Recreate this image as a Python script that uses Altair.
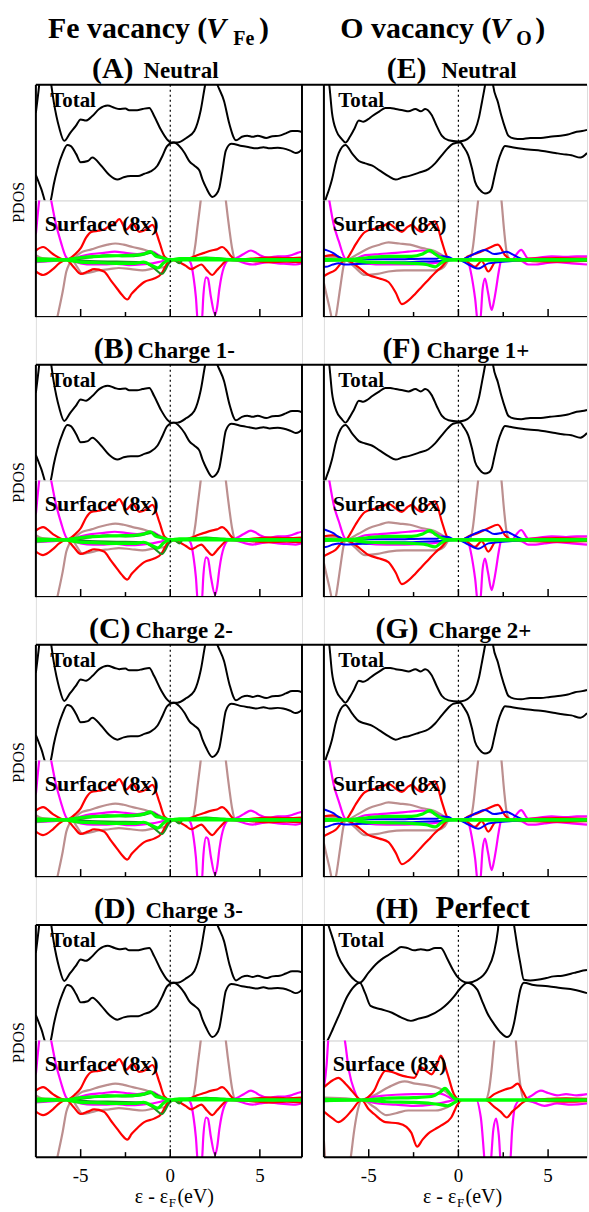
import altair as alt
import pandas as pd

FONT = "Liberation Serif, Times New Roman, serif"

# ---------------- layout ----------------
W_L, W_R = 267, 264
H_TOP, H_BOT = 116, 117
GAP = 48
COL_GAP = 22
X_DOM_L = [-7.5, 7.35]
X_DOM_R = [-7.5, 7.17]
Y_DOM_TOP = [-5, 5]
Y_DOM_BOT = [-4.9, 5.1]

TICKS_MAJOR = [-5, 0, 5]
TICKS_MINOR = [-2.5, 2.5]
TICK_LABELS = ["-5", "0", "5"]

# ---------------- Fe vacancy (panels A-D) ----------------
FE_TOT_UP = [(-7.5, 2.6), (-7.35, 4.5), (-7.2, 6.5), (-6.9, 7.5), (-6.67, 5.3), (-6.5, 3.5), (-6.2, 1.3),
             (-5.92, 0.15), (-5.6, 0.8), (-5.27, 1.45), (-5.0, 2.0), (-4.7, 1.9), (-4.35, 2.3), (-3.97, 2.9),
             (-3.5, 3.2), (-3.1, 3.0), (-2.85, 2.9), (-2.5, 2.95), (-2.3, 2.8), (-1.85, 2.8), (-1.55, 2.9),
             (-1.17, 3.0), (-0.9, 2.3), (-0.52, 1.1), (-0.17, 0.26), (0.05, 0.0), (0.4, 0.0), (0.9, 0.4),
             (1.34, 1.0), (1.7, 2.8), (1.95, 5.0), (2.1, 6.0), (2.4, 6.0), (2.63, 5.0), (3.0, 3.6),
             (3.3, 1.6), (3.67, 0.2), (4.0, 0.5), (4.3, 0.6), (4.6, 0.5), (4.87, 0.6), (5.35, 0.4),
             (5.7, 0.55), (6.1, 0.6), (6.45, 0.8), (6.8, 1.0), (7.1, 1.0), (7.35, 0.9)]
FE_TOT_DN = [(-7.5, -2.8), (-7.2, -4.0), (-6.85, -5.5), (-6.67, -5.0), (-6.5, -3.6), (-6.3, -2.3),
             (-6.0, -0.9), (-5.75, -0.2), (-5.55, -0.3), (-5.25, -1.0), (-5.0, -1.7), (-4.6, -1.6),
             (-4.35, -1.3), (-3.85, -2.0), (-3.4, -2.8), (-2.95, -3.2), (-2.6, -3.0), (-2.2, -2.9),
             (-1.8, -2.9), (-1.45, -2.7), (-1.1, -2.5), (-0.72, -2.0), (-0.45, -1.2), (-0.17, -0.3),
             (0.2, 0.0), (0.5, -0.3), (0.8, -0.9), (1.06, -1.6), (1.35, -2.0), (1.62, -2.4), (1.8, -3.2),
             (2.0, -3.9), (2.35, -4.7), (2.55, -4.5), (2.74, -3.9), (2.9, -2.5), (3.1, -0.7), (3.4, -0.1),
             (4.0, -0.3), (4.4, -0.4), (4.8, -0.5), (5.2, -0.4), (5.55, -0.5), (6.0, -0.45), (6.3, -0.5),
             (6.7, -0.7), (7.0, -0.9), (7.2, -0.8), (7.35, -0.6)]
FE_RED_UP = [(-7.5, 0.8), (-7.1, 1.1), (-6.55, 0.5), (-6.1, 0.1), (-5.8, 0.0), (-5.3, 0.5), (-5.0, 1.0),
             (-4.7, 1.9), (-4.4, 2.4), (-4.0, 2.5), (-3.7, 2.6), (-3.4, 2.9), (-3.1, 3.1), (-2.85, 3.5),
             (-2.46, 2.6), (-2.1, 3.1), (-1.73, 2.4), (-1.35, 2.6), (-1.0, 3.0), (-0.6, 1.5), (-0.33, 0.3),
             (0.0, 0.0), (0.8, 0.0), (1.2, 0.2), (1.5, 0.4), (1.9, 0.6), (2.3, 0.8), (2.6, 0.9), (2.9, 1.1),
             (3.15, 0.8), (3.4, 0.3), (3.7, 0.0), (4.5, 0.1), (5.5, 0.2), (6.5, 0.15), (7.35, 0.2)]
FE_RED_DN = [(-7.5, -1.0), (-7.1, -1.3), (-6.55, -0.8), (-6.2, -0.3), (-5.8, 0.0), (-5.4, -0.6),
             (-5.0, -1.2), (-4.6, -1.0), (-4.25, -0.8), (-3.7, -1.0), (-3.3, -1.8), (-2.95, -2.5),
             (-2.7, -3.0), (-2.4, -3.4), (-2.15, -2.9), (-1.9, -2.5), (-1.45, -1.9), (-0.9, -1.6),
             (-0.5, -1.2), (-0.17, -0.3), (0.0, 0.0), (0.5, -0.2), (0.85, -0.5), (1.17, -0.8), (1.45, -0.6),
             (1.73, -0.4), (2.05, -0.9), (2.35, -1.3), (2.6, -0.9), (2.9, -0.4), (3.2, 0.0), (4.5, -0.1),
             (5.5, -0.2), (6.5, -0.15), (7.35, -0.2)]
FE_MAG_UP = [(-7.5, 2.2), (-7.3, 5.3), (-7.0, 8.0), (-6.67, 5.3), (-6.4, 3.2), (-6.1, 1.5), (-5.8, 0.2),
             (-5.6, 0.0), (-5.0, 0.3), (-4.4, 0.5), (-3.7, 0.6), (-3.1, 0.7), (-2.5, 0.6), (-1.85, 0.5),
             (-1.4, 0.6), (-1.0, 0.7), (-0.6, 0.3), (-0.3, 0.0), (3.4, 0.0), (3.75, 0.2), (4.1, 0.5),
             (4.5, 0.8), (4.8, 0.6), (5.0, 0.4), (5.5, 0.2), (6.0, 0.3), (6.4, 0.3), (6.75, 0.4),
             (7.1, 0.6), (7.35, 0.7)]
FE_MAG_DN = [(-7.5, -0.2), (-6.5, -0.1), (-5.7, 0.0), (-5.0, -0.3), (-4.3, -0.4), (-3.7, -0.4),
             (-3.0, -0.35), (-2.3, -0.45), (-1.6, -0.4), (-1.0, -0.3), (-0.4, -0.1), (0.0, 0.0), (1.0, 0.0),
             (1.15, -0.3), (1.3, -1.5), (1.43, -3.2), (1.55, -5.5), (1.75, -5.5), (1.85, -3.0), (2.0, -1.5),
             (2.1, -1.6), (2.27, -3.2), (2.5, -4.7), (2.62, -4.0), (2.74, -2.5), (3.0, -0.6), (3.3, 0.0),
             (3.8, -0.1), (4.2, -0.3), (4.6, -0.4), (5.0, -0.3), (5.5, -0.2), (6.0, -0.3), (6.5, -0.35),
             (7.0, -0.4), (7.35, -0.3)]
FE_BRN_UP = [(-7.5, 0.4), (-7.15, 0.15), (-6.5, 0.1), (-5.66, 0.0), (-4.9, 0.7), (-4.4, 0.9), (-4.0, 1.1),
             (-3.5, 1.3), (-3.07, 1.4), (-2.6, 1.3), (-2.1, 1.1), (-1.4, 0.85), (-0.63, 0.4), (-0.1, 0.0),
             (1.0, 0.0), (1.23, 0.1), (1.4, 1.3), (1.5, 2.6), (1.7, 5.1), (1.9, 8.0), (2.5, 9.0), (2.9, 8.0),
             (3.1, 5.1), (3.3, 2.6), (3.45, 1.0), (3.6, 0.1), (4.0, 0.0), (7.35, 0.0)]
FE_BRN_DN = [(-7.5, -8.0), (-6.6, -7.0), (-6.3, -4.9), (-6.0, -2.7), (-5.8, -1.0), (-5.65, -0.4),
             (-5.5, 0.0), (-5.2, -0.6), (-4.9, -1.2), (-4.4, -1.05), (-4.0, -0.9), (-3.4, -0.8),
             (-2.87, -0.7), (-2.2, -0.8), (-1.56, -0.9), (-0.84, -0.7), (-0.28, -0.6), (0.0, 0.0), (7.35, 0.0)]
FE_GRN_UP = [(-7.5, 0.1), (-6.0, 0.0), (-5.0, 0.2), (-4.0, 0.3), (-3.0, 0.35), (-2.0, 0.4), (-1.5, 0.5),
             (-1.1, 0.7), (-0.8, 0.3), (-0.5, 0.2), (0.0, 0.0), (0.5, 0.1), (1.5, 0.1), (2.5, 0.1),
             (3.5, 0.0), (7.35, 0.0)]
FE_GRN_DN = [(-7.5, -0.1), (-6.0, 0.0), (-5.0, -0.2), (-4.0, -0.25), (-3.0, -0.3), (-2.0, -0.3),
             (-1.5, -0.2), (-1.0, -0.5), (-0.7, -0.7), (-0.4, -0.3), (0.0, 0.0), (7.35, 0.0)]
FE_DGR_UP = [(-7.5, 0.0), (-5.7, 0.0), (-4.5, 0.2), (-3.5, 0.4), (-2.5, 0.3), (-1.6, 0.4), (-1.0, 0.6),
             (-0.6, 0.3), (0.0, 0.0), (1.0, 0.1), (2.0, 0.2), (3.0, 0.1), (7.35, 0.0)]
FE_DGR_DN = [(-7.5, 0.0), (-5.7, 0.0), (-4.5, -0.1), (-3.0, -0.15), (-1.5, -0.2), (-1.0, -0.6),
             (-0.45, -1.2), (-0.07, -0.3), (0.2, 0.0), (0.5, -0.3), (0.7, 0.0), (7.35, 0.0)]

# ---------------- O vacancy (panels E-G) ----------------
OV_TOT_UP = [(-7.5, 7.0), (-7.2, 5.0), (-7.05, 2.6), (-6.8, 1.0), (-6.5, 0.3), (-6.3, 0.0), (-6.05, 0.5),
             (-5.83, 1.1), (-5.55, 1.9), (-5.3, 1.8), (-5.05, 2.0), (-4.8, 2.3), (-4.4, 2.7), (-4.07, 3.0),
             (-3.8, 3.0), (-3.5, 2.9), (-3.1, 2.8), (-2.78, 2.7), (-2.4, 2.9), (-2.1, 2.7), (-1.85, 2.9),
             (-1.5, 2.4), (-1.2, 1.4), (-0.93, 0.6), (-0.55, 0.2), (0.0, 0.1), (0.37, 0.2), (0.65, 0.5),
             (0.93, 1.1), (1.15, 2.2), (1.3, 3.4), (1.48, 4.9), (1.6, 6.0), (1.85, 6.0), (1.94, 4.9),
             (2.2, 3.5), (2.4, 2.3), (2.6, 1.3), (2.78, 0.6), (3.1, 0.35), (3.5, 0.3), (4.0, 0.4),
             (4.6, 0.4), (5.1, 0.5), (5.7, 0.6), (6.1, 0.7), (6.5, 0.9), (6.9, 1.0), (7.17, 1.1)]
OV_TOT_DN = [(-7.5, -5.5), (-7.4, -4.9), (-7.2, -4.0), (-7.05, -3.2), (-6.85, -1.8), (-6.67, -0.9),
             (-6.3, -0.2), (-5.9, -1.0), (-5.55, -1.6), (-5.2, -1.8), (-4.8, -2.0), (-4.4, -2.4),
             (-3.9, -2.9), (-3.5, -3.2), (-3.1, -3.0), (-2.78, -2.9), (-2.2, -2.6), (-1.67, -2.3),
             (-1.3, -1.8), (-0.93, -1.1), (-0.6, -0.5), (-0.3, -0.1), (0.1, 0.0), (0.3, -0.4), (0.55, -1.1),
             (0.75, -2.2), (0.93, -3.4), (1.2, -4.1), (1.48, -4.4), (1.7, -4.3), (1.85, -4.0), (2.0, -3.0),
             (2.2, -1.7), (2.4, -0.8), (2.6, -0.3), (3.0, -0.4), (3.9, -0.6), (4.6, -0.7), (5.4, -0.9),
             (5.8, -1.0), (6.3, -1.1), (6.8, -1.3), (7.17, -0.9)]
OV_RED_UP = [(-7.5, 0.3), (-7.0, 0.4), (-6.6, 0.2), (-6.3, 0.0), (-6.0, 0.6), (-5.74, 1.3), (-5.2, 2.4),
             (-4.6, 2.7), (-4.2, 2.9), (-3.9, 3.1), (-3.5, 2.7), (-3.15, 2.4), (-2.85, 2.8), (-2.6, 3.0),
             (-2.3, 2.6), (-2.04, 2.4), (-1.67, 3.0), (-1.3, 3.3), (-0.93, 1.6), (-0.7, 0.5), (-0.55, 0.0),
             (0.2, 0.0), (0.55, 0.3), (1.1, 0.6), (1.67, 1.0), (2.2, 1.3), (2.6, 0.4), (2.96, 0.0),
             (4.0, 0.1), (5.5, 0.15), (7.17, 0.1)]
OV_RED_DN = [(-7.5, -1.4), (-7.4, -1.3), (-6.85, -0.85), (-6.3, 0.0), (-5.74, -0.45), (-5.0, -1.3),
             (-4.4, -1.6), (-3.9, -1.9), (-3.5, -2.8), (-3.15, -3.8), (-2.8, -3.5), (-2.4, -2.9),
             (-2.04, -2.3), (-1.67, -1.7), (-1.3, -1.1), (-0.93, -0.6), (-0.55, 0.0), (0.3, 0.0),
             (0.6, -0.3), (0.93, -0.6), (1.3, -0.1), (1.67, -1.0), (2.04, -0.2), (2.4, 0.0), (4.0, -0.1),
             (5.5, -0.15), (7.17, -0.1)]
OV_MAG_UP = [(-7.5, 8.0), (-7.2, 5.1), (-6.95, 3.0), (-6.67, 1.6), (-6.3, 0.1), (-6.0, 0.0), (-5.2, 0.4),
             (-4.4, 0.5), (-3.5, 0.6), (-2.8, 0.7), (-2.0, 0.8), (-1.4, 0.6), (-0.9, 0.3), (-0.55, 0.0),
             (3.0, 0.0), (3.2, 0.4), (3.5, 0.85), (3.9, 0.1), (4.5, 0.2), (5.2, 0.3), (6.0, 0.25),
             (6.6, 0.3), (7.17, 0.3)]
OV_MAG_DN = [(-7.5, -0.1), (-6.3, 0.0), (-5.2, -0.3), (-4.0, -0.4), (-3.0, -0.4), (-2.0, -0.35),
             (-1.0, -0.2), (-0.5, 0.0), (0.4, 0.0), (0.55, -0.2), (0.75, -1.5), (0.93, -3.3), (1.1, -5.5),
             (1.2, -5.5), (1.35, -2.5), (1.48, -1.6), (1.65, -2.8), (1.85, -4.3), (2.0, -3.4), (2.1, -2.5),
             (2.25, -1.0), (2.4, 0.0), (3.5, -0.1), (3.9, -0.4), (4.3, -0.4), (4.8, -0.3), (5.5, -0.2),
             (6.3, -0.3), (7.17, -0.4)]
OV_BRN_UP = [(-7.5, 0.3), (-6.8, 0.2), (-6.3, 0.0), (-5.6, 0.5), (-5.0, 1.0), (-4.4, 1.3), (-3.9, 1.5),
             (-3.3, 1.4), (-2.7, 1.3), (-2.0, 1.0), (-1.4, 0.8), (-0.8, 0.3), (-0.5, 0.0), (0.6, 0.0),
             (0.8, 1.0), (0.95, 3.0), (1.1, 5.1), (1.3, 8.0), (2.1, 8.5), (2.4, 5.1), (2.55, 2.5),
             (2.7, 0.6), (2.9, 0.0), (7.17, 0.0)]
OV_BRN_DN = [(-7.5, -2.0), (-7.2, -4.0), (-6.95, -5.5), (-6.85, -5.0), (-6.6, -2.5), (-6.4, -0.5),
             (-6.3, 0.0), (-5.8, -0.6), (-5.2, -1.3), (-4.5, -1.2), (-3.9, -1.0), (-3.0, -0.9), (-2.2, -0.9),
             (-1.3, -0.9), (-0.8, -0.6), (-0.5, 0.0), (7.17, 0.0)]
OV_GRN_UP = [(-7.5, 0.05), (-6.3, 0.0), (-5.0, 0.2), (-3.8, 0.3), (-2.6, 0.3), (-2.0, 0.5), (-1.6, 0.8),
             (-1.3, 0.5), (-1.0, 0.2), (-0.6, 0.0), (7.17, 0.0)]
OV_GRN_DN = [(-7.5, -0.05), (-6.3, 0.0), (-5.0, -0.2), (-3.8, -0.25), (-2.6, -0.3), (-1.8, -0.4),
             (-1.3, -0.6), (-1.0, -0.3), (-0.6, 0.0), (7.17, 0.0)]
OV_BLU_UP = [(-7.5, 0.9), (-7.4, 0.85), (-7.0, 0.6), (-6.67, 0.25), (-6.3, 0.0), (-5.0, 0.05), (-3.5, 0.05),
             (-2.0, 0.1), (-1.2, 0.1), (-0.9, 0.3), (-0.55, 0.25), (-0.2, 0.0), (0.1, 0.0), (0.55, 0.25),
             (1.0, 0.6), (1.48, 0.85), (2.0, 0.5), (2.4, 0.6), (2.67, 0.7), (3.1, 0.4), (3.5, 0.1),
             (4.0, 0.0), (7.17, 0.0)]
OV_BLU_DN = [(-7.5, -0.6), (-7.4, -0.6), (-7.0, -0.4), (-6.67, -0.3), (-6.3, -0.4), (-5.0, -0.3),
             (-4.0, -0.2), (-3.0, -0.2), (-2.0, -0.15), (-1.0, -0.1), (0.0, 0.0), (0.55, -0.4), (1.1, -0.75),
             (1.67, -0.3), (2.2, -0.2), (3.0, -0.1), (4.0, 0.0), (7.17, 0.0)]

# ---------------- Perfect (panel H) ----------------
PF_TOT_UP = [(-7.5, 6.0), (-7.3, 5.2), (-7.0, 3.8), (-6.7, 2.3), (-6.3, 1.2), (-5.8, 0.25), (-5.5, 0.0),
             (-5.0, 0.9), (-4.6, 1.6), (-4.3, 2.0), (-3.9, 2.4), (-3.5, 2.8), (-3.2, 3.1), (-2.85, 3.0),
             (-2.46, 2.8), (-2.1, 2.9), (-1.7, 2.8), (-1.3, 3.0), (-0.98, 3.0), (-0.6, 2.0), (-0.3, 1.1),
             (-0.05, 0.5), (0.5, 0.0), (1.05, 0.25), (1.6, 1.1), (1.98, 2.6), (2.2, 4.5), (2.3, 6.0),
             (3.0, 6.0), (3.1, 5.0), (3.3, 3.0), (3.45, 1.7), (3.65, 0.25), (4.0, 0.2), (4.4, 0.25),
             (4.9, 0.4), (5.3, 0.55), (5.8, 0.6), (6.45, 0.85), (6.8, 1.0), (7.17, 1.1)]
PF_TOT_DN = [(-7.5, -5.5), (-7.3, -5.0), (-7.0, -4.0), (-6.6, -2.6), (-6.2, -1.2), (-5.8, -0.3),
             (-5.5, 0.0), (-5.2, -0.9), (-4.9, -2.0), (-4.3, -2.3), (-3.7, -2.6), (-3.2, -3.0), (-2.65, -3.3),
             (-2.2, -3.1), (-1.7, -2.9), (-0.98, -2.3), (-0.6, -1.8), (-0.25, -1.2), (0.1, -0.5), (0.5, 0.0),
             (1.05, -0.6), (1.3, -1.5), (1.6, -2.6), (2.0, -3.6), (2.35, -4.3), (2.7, -4.7), (2.9, -4.5),
             (3.1, -3.5), (3.3, -1.8), (3.45, -0.6), (3.65, 0.0), (4.2, -0.2), (5.0, -0.3), (5.7, -0.45),
             (6.45, -0.6), (7.17, -0.9)]
PF_RED_UP = [(-7.5, 1.1), (-7.0, 1.7), (-6.7, 1.9), (-6.3, 1.4), (-5.95, 0.8), (-5.4, 0.0), (-5.0, 0.3),
             (-4.7, 0.8), (-4.4, 1.8), (-4.07, 2.5), (-3.7, 2.4), (-3.35, 2.2), (-2.9, 2.0), (-2.46, 1.9),
             (-2.1, 2.8), (-1.8, 2.5), (-1.5, 2.2), (-1.2, 3.0), (-0.98, 3.8), (-0.6, 2.2), (-0.25, 0.5),
             (0.1, 0.0), (1.5, 0.0), (2.0, 0.5), (2.6, 0.9), (3.0, 1.1), (3.3, 1.4), (3.6, 0.7), (3.9, 0.0),
             (5.0, 0.1), (6.0, 0.15), (7.17, 0.1)]
PF_RED_DN = [(-7.5, -1.0), (-7.0, -1.6), (-6.7, -1.9), (-6.3, -1.5), (-5.95, -0.9), (-5.4, 0.0),
             (-5.0, -0.8), (-4.7, -1.2), (-4.07, -1.9), (-3.35, -2.0), (-2.9, -2.3), (-2.63, -2.8),
             (-2.3, -4.0), (-2.0, -3.4), (-1.7, -2.9), (-1.3, -2.5), (-0.98, -2.2), (-0.4, -1.5),
             (-0.05, -0.4), (0.2, 0.0), (1.5, 0.0), (2.0, -0.6), (2.35, -1.0), (2.7, -1.5), (3.0, -1.0),
             (3.3, -0.6), (3.6, -0.2), (3.9, 0.0), (5.0, -0.1), (6.0, -0.15), (7.17, -0.1)]
PF_MAG_UP = [(-7.5, 1.0), (-7.35, 3.0), (-7.25, 5.3), (-6.9, 8.0), (-6.35, 5.3), (-6.1, 2.5), (-5.8, 0.8),
             (-5.5, 0.0), (-5.0, 0.2), (-4.3, 0.35), (-3.5, 0.45), (-2.5, 0.5), (-1.5, 0.5), (-1.0, 0.55),
             (-0.6, 0.3), (-0.2, 0.0), (3.6, 0.0), (4.0, 0.3), (4.6, 0.8), (5.0, 0.6), (5.5, 0.4),
             (6.0, 0.5), (6.6, 0.4), (7.17, 0.5)]
PF_MAG_DN = [(-7.5, -0.1), (-5.5, 0.0), (-4.5, -0.3), (-3.5, -0.4), (-2.5, -0.5), (-1.5, -0.4),
             (-0.8, -0.2), (0.0, 0.0), (1.0, 0.0), (1.25, -1.5), (1.55, -6.0), (1.75, -6.0), (1.95, -2.5),
             (2.1, -1.6), (2.25, -3.0), (2.4, -6.0), (2.85, -6.0), (3.0, -2.5), (3.15, -0.6), (3.45, 0.0),
             (4.2, -0.2), (4.8, -0.5), (5.5, -0.3), (6.3, -0.4), (7.17, -0.3)]
PF_BRN_UP = [(-7.5, 0.2), (-6.0, 0.1), (-5.4, 0.0), (-4.7, 0.4), (-3.9, 1.1), (-3.0, 1.6), (-2.4, 1.4),
             (-1.7, 1.25), (-0.8, 0.8), (-0.3, 0.2), (0.0, 0.0), (1.5, 0.0), (1.7, 0.8), (1.85, 2.6),
             (2.0, 5.1), (2.3, 9.0), (2.9, 9.0), (3.2, 5.1), (3.35, 2.6), (3.5, 0.8), (3.65, 0.0), (7.17, 0.0)]
PF_BRN_DN = [(-7.5, -3.5), (-7.4, -5.5), (-7.0, -9.0), (-6.3, -8.0), (-6.0, -4.9), (-5.8, -2.5),
             (-5.6, -0.8), (-5.4, 0.0), (-4.7, -0.6), (-4.0, -1.3), (-3.4, -1.1), (-2.8, -0.9), (-2.0, -0.9),
             (-1.3, -0.9), (-0.6, -0.6), (-0.2, -0.2), (0.0, 0.0), (7.17, 0.0)]
PF_GRN_UP = [(-7.5, 0.05), (-5.5, 0.0), (-4.0, 0.15), (-2.5, 0.2), (-1.5, 0.3), (-1.0, 0.7), (-0.75, 1.0),
             (-0.5, 0.6), (-0.2, 0.1), (0.1, 0.0), (7.17, 0.0)]
PF_GRN_DN = [(-7.5, -0.05), (-5.5, 0.0), (-4.0, -0.15), (-2.5, -0.2), (-1.5, -0.3), (-1.0, -0.4),
             (-0.6, -0.5), (-0.2, -0.2), (0.1, 0.0), (7.17, 0.0)]

# ---------------- panel texts ----------------
LEFT_LABELS = ["(A)", "(B)", "(C)", "(D)"]
LEFT_NAMES = ["Neutral", "Charge 1-", "Charge 2-", "Charge 3-"]
RIGHT_LABELS = ["(E)", "(F)", "(G)", "(H)"]
RIGHT_NAMES = ["Neutral", "Charge 1+", "Charge 2+", "Perfect"]

COLORS = {"brn": "#bc8f8f", "mag": "#ff00ff", "red": "#ff0000", "blu": "#0000ff",
          "dgr": "#1f8f1f", "grn": "#00ff00"}

ONE = pd.DataFrame({"k": [0]})


def pts_df(pts, part):
    return pd.DataFrame({"E": [p[0] for p in pts], "v": [p[1] for p in pts], "part": part})


def pair_df(up, dn):
    return pd.concat([pts_df(up, "up"), pts_df(dn, "dn")], ignore_index=True)


def line_layer(df, xs, ys, color, width):
    return alt.Chart(df).mark_line(color=color, strokeWidth=width, clip=True, interpolate="monotone").encode(
        x=alt.X("E:Q", scale=xs, axis=None), y=alt.Y("v:Q", scale=ys, axis=None), detail="part:N")


def txt(t, x, y, size, weight="bold", style="normal", align="left", baseline="alphabetic", angle=0):
    kw = dict(text=t, font=FONT, fontSize=size, fontWeight=weight, fontStyle=style, align=align,
              baseline=baseline, color="black")
    if angle:
        kw["angle"] = angle
    return alt.Chart(ONE).mark_text(**kw).encode(x=alt.value(x), y=alt.value(y))


def data_txt(t, e, v, xs, ys, size):
    return alt.Chart(pd.DataFrame({"E": [e], "v": [v]})).mark_text(
        text=t, font=FONT, fontSize=size, fontWeight="bold", align="left", baseline="alphabetic",
        color="black").encode(x=alt.X("E:Q", scale=xs, axis=None), y=alt.Y("v:Q", scale=ys, axis=None))


def hrule(x1, x2, y, w=2):
    return alt.Chart(ONE).mark_rule(color="black", strokeWidth=w).encode(
        x=alt.value(x1), x2=alt.value(x2), y=alt.value(y))


def vrule(x, y1, y2, w=2):
    return alt.Chart(ONE).mark_rule(color="black", strokeWidth=w).encode(
        x=alt.value(x), y=alt.value(y1), y2=alt.value(y2))


def zero_line(xs):
    return alt.Chart(pd.DataFrame({"E": [0.0]})).mark_rule(
        color="black", strokeWidth=1.2, strokeDash=[2, 3]).encode(x=alt.X("E:Q", scale=xs, axis=None))


def panel(d, W, xdom, label, name, lab_x, name_x, name_size, header=None, left=False, bottom=False):
    xs = alt.Scale(domain=xdom, nice=False, zero=False)
    yt = alt.Scale(domain=Y_DOM_TOP, nice=False, zero=False)
    yb = alt.Scale(domain=Y_DOM_BOT, nice=False, zero=False)

    top_layers = [
        line_layer(pair_df(d["tot_up"], d["tot_dn"]), xs, yt, "black", 2),
        zero_line(xs),
        hrule(0, W + (COL_GAP if left else 0), 0), vrule(0, 0, H_TOP),
        data_txt("Total", -6.7, 3.1, xs, yt, 21),
        txt(label, lab_x, -7, 30, align="right"),
        txt(name, name_x, -7, name_size, align="left"),
    ]
    if left:
        top_layers.append(vrule(W, 0, H_TOP))
    if header:
        for piece in header:
            top_layers.append(txt(**piece))
    top = alt.layer(*top_layers).properties(width=W, height=H_TOP)

    bot_layers = []
    for key, width in [("brn", 2.2), ("mag", 2.2), ("red", 2.2), ("blu", 2.0), ("dgr", 2.0), ("grn", 3.2)]:
        if key + "_up" in d:
            bot_layers.append(line_layer(pair_df(d[key + "_up"], d[key + "_dn"]), xs, yb, COLORS[key], width))
    bot_layers += [
        zero_line(xs),
        vrule(0, 0, H_BOT), hrule(0, W, H_BOT),
        alt.Chart(pd.DataFrame({"E": TICKS_MAJOR})).mark_rule(color="black", strokeWidth=1.5).encode(
            x=alt.X("E:Q", scale=xs, axis=None), y=alt.value(H_BOT), y2=alt.value(H_BOT - 8)),
        alt.Chart(pd.DataFrame({"E": TICKS_MINOR})).mark_rule(color="black", strokeWidth=1.5).encode(
            x=alt.X("E:Q", scale=xs, axis=None), y=alt.value(H_BOT), y2=alt.value(H_BOT - 5)),
        data_txt("Surface (8x)", -7.0, 2.5, xs, yb, 22),
    ]
    if left:
        bot_layers.append(vrule(W, 0, H_BOT))
        bot_layers.append(txt("PDOS", -17, 2, 16, weight="normal", align="center", baseline="middle", angle=270))
    if bottom:
        bot_layers.append(
            alt.Chart(pd.DataFrame({"E": TICKS_MAJOR, "t": TICK_LABELS})).mark_text(
                font=FONT, fontSize=19, align="center", baseline="alphabetic", color="black").encode(
                x=alt.X("E:Q", scale=xs, axis=None), y=alt.value(H_BOT + 25), text="t:N"))
        bot_layers.append(
            alt.Chart(pd.DataFrame({"E": [-0.12], "t": ["ε - ε"]})).mark_text(
                font=FONT, fontSize=20, align="right", baseline="alphabetic", color="black").encode(
                x=alt.X("E:Q", scale=xs, axis=None), y=alt.value(H_BOT + 46), text="t:N"))
        bot_layers.append(
            alt.Chart(pd.DataFrame({"E": [-0.08], "t": ["F"]})).mark_text(
                font=FONT, fontSize=13, align="left", baseline="alphabetic", color="black").encode(
                x=alt.X("E:Q", scale=xs, axis=None), y=alt.value(H_BOT + 50), text="t:N"))
        bot_layers.append(
            alt.Chart(pd.DataFrame({"E": [0.4], "t": ["(eV)"]})).mark_text(
                font=FONT, fontSize=20, align="left", baseline="alphabetic", color="black").encode(
                x=alt.X("E:Q", scale=xs, axis=None), y=alt.value(H_BOT + 46), text="t:N"))
    bot = alt.layer(*bot_layers).properties(width=W, height=H_BOT)
    return top, bot


def spacer(W):
    return alt.Chart(ONE).mark_point(opacity=0).encode(
        x=alt.value(0), y=alt.value(0)).properties(width=W, height=GAP)


FE = {"tot_up": FE_TOT_UP, "tot_dn": FE_TOT_DN, "brn_up": FE_BRN_UP, "brn_dn": FE_BRN_DN,
      "mag_up": FE_MAG_UP, "mag_dn": FE_MAG_DN, "red_up": FE_RED_UP, "red_dn": FE_RED_DN,
      "dgr_up": FE_DGR_UP, "dgr_dn": FE_DGR_DN, "grn_up": FE_GRN_UP, "grn_dn": FE_GRN_DN}
OV = {"tot_up": OV_TOT_UP, "tot_dn": OV_TOT_DN, "brn_up": OV_BRN_UP, "brn_dn": OV_BRN_DN,
      "mag_up": OV_MAG_UP, "mag_dn": OV_MAG_DN, "red_up": OV_RED_UP, "red_dn": OV_RED_DN,
      "blu_up": OV_BLU_UP, "blu_dn": OV_BLU_DN, "grn_up": OV_GRN_UP, "grn_dn": OV_GRN_DN}
PF = {"tot_up": PF_TOT_UP, "tot_dn": PF_TOT_DN, "brn_up": PF_BRN_UP, "brn_dn": PF_BRN_DN,
      "mag_up": PF_MAG_UP, "mag_dn": PF_MAG_DN, "red_up": PF_RED_UP, "red_dn": PF_RED_DN,
      "grn_up": PF_GRN_UP, "grn_dn": PF_GRN_DN}

HEAD_L = [dict(t="Fe vacancy (", x=172, y=-47, size=30, align="right"),
          dict(t="V", x=171, y=-47, size=30, style="italic"),
          dict(t="Fe", x=198, y=-40, size=20),
          dict(t=")", x=224, y=-47, size=30)]
HEAD_R = [dict(t="O vacancy (", x=168, y=-47, size=30, align="right"),
          dict(t="V", x=167, y=-47, size=30, style="italic"),
          dict(t="O", x=193, y=-40, size=20),
          dict(t=")", x=212, y=-47, size=30)]

LAB_X_L = [98, 98, 95, 100]
NAME_X_L = [108, 102, 100, 110]
LAB_X_R = [103, 97, 95, 95]
NAME_X_R = [118, 103, 105, 112]
NAME_SIZE_R = [23, 23, 23, 31]

cells = []
for i in range(4):
    lt, lb = panel(FE, W_L, X_DOM_L, LEFT_LABELS[i], LEFT_NAMES[i], LAB_X_L[i], NAME_X_L[i], 23,
                   header=HEAD_L if i == 0 else None, left=True, bottom=(i == 3))
    d = PF if i == 3 else OV
    rt, rb = panel(d, W_R, X_DOM_R, RIGHT_LABELS[i], RIGHT_NAMES[i], LAB_X_R[i], NAME_X_R[i],
                   NAME_SIZE_R[i], header=HEAD_R if i == 0 else None, left=False, bottom=(i == 3))
    cells += [lt, rt, lb, rb]
    if i < 3:
        cells += [spacer(W_L), spacer(W_R)]

chart = alt.concat(*cells, columns=2, spacing={"row": 0, "column": COL_GAP}, bounds="flush").properties(
    padding={"left": 10, "top": 11, "right": 0, "bottom": 0}
).configure_view(stroke=None).configure(background="white")

chart.save("out.html", embed_options={"renderer": "svg", "actions": False})
